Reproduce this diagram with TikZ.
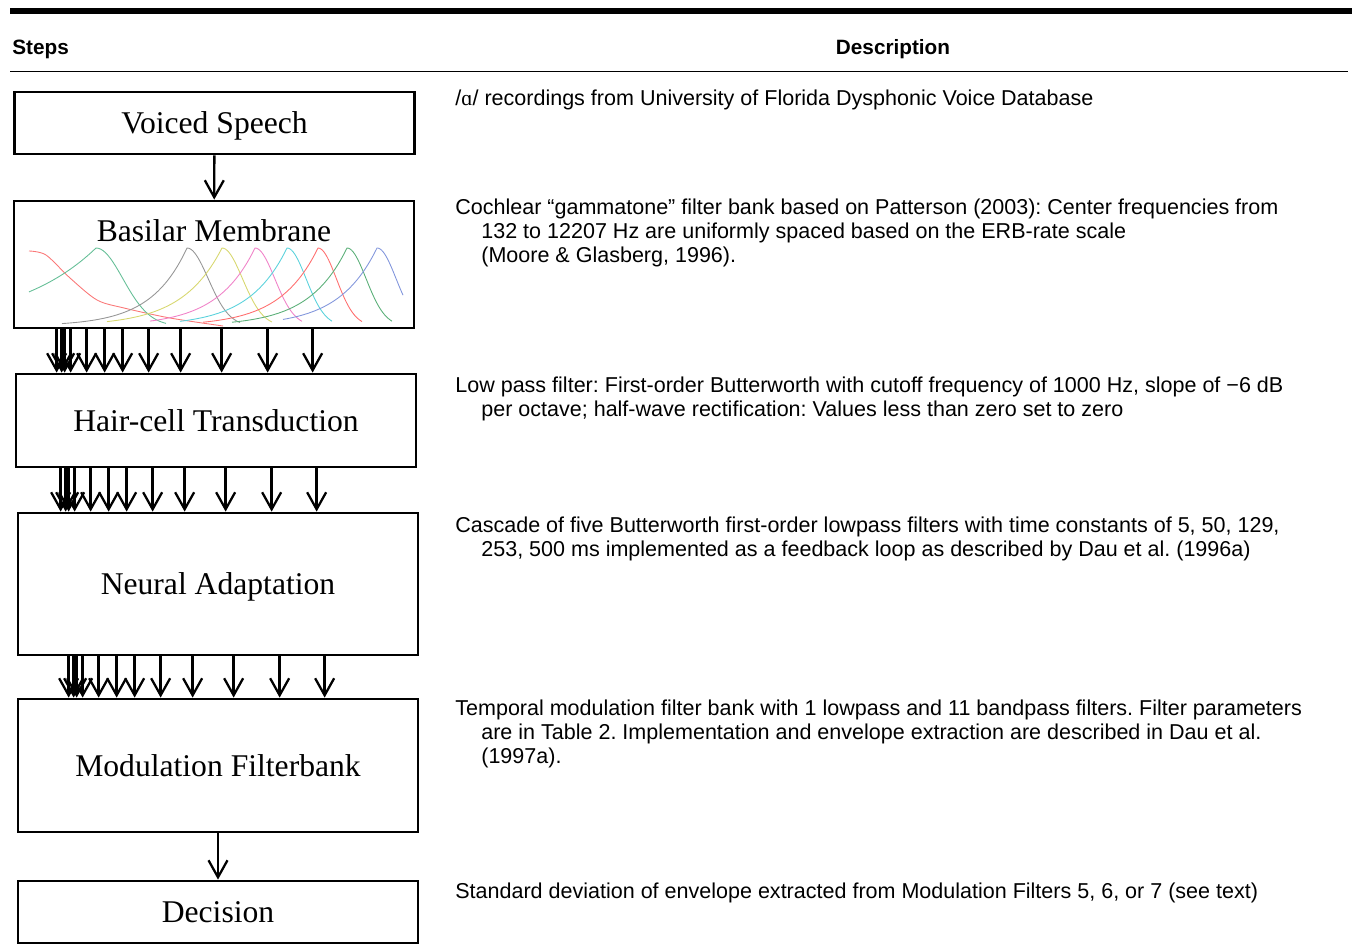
\documentclass[tikz,border=0pt]{standalone}
\usepackage{fontspec}
\setmainfont{Liberation Serif}
\setsansfont{Liberation Sans}
\usetikzlibrary{arrows.meta,calc}
\frenchspacing

\definecolor{bmred}{RGB}{250,120,120}
\definecolor{bmgreen}{RGB}{100,190,150}
\definecolor{bmgray}{RGB}{150,150,150}
\definecolor{bmyellow}{RGB}{215,215,110}
\definecolor{bmpink}{RGB}{240,130,200}
\definecolor{bmcyan}{RGB}{90,210,220}
\definecolor{bmredb}{RGB}{255,110,110}
\definecolor{bmgreenb}{RGB}{90,175,120}
\definecolor{bmblue}{RGB}{130,150,220}

\tikzset{
  stepbox/.style={draw=black,line width=1.6pt,minimum width=8cm,text depth=0pt,
    font=\rmfamily\fontsize{18}{22}\selectfont},
  steptext/.style={font=\rmfamily\fontsize{18}{22}\selectfont,text depth=0pt},
  header/.style={font=\sffamily\bfseries\fontsize{11.8}{14}\selectfont,inner sep=0pt},
  desc/.style={anchor=base west,align=left,inner sep=0pt,
    font=\sffamily\fontsize{12.25}{13.66}\selectfont},
  fanarrow/.style={-{Straight Barb[length=0.34cm,width=0.38cm]},line width=1.3pt},
  bmcurve/.style={line width=0.5pt},
}

\begin{document}
\begin{tikzpicture}[x=0.02cm,y=-0.02cm]
\useasboundingbox (0,0) rectangle (1356,949);
% table rules and headings
\fill (10,8) rectangle (1352,14);
\draw[line width=1.1pt] (10,71.5) -- (1348,71.5);
\node[header,anchor=base west] (steps) at (12,55) {Steps};
\node[header,anchor=base] (description) at (893,55) {Description};

% steps
\node[stepbox,minimum height=1.24cm] (voiced) at (214.5,123) {Voiced Speech};
\node[stepbox,minimum height=2.54cm] (basilar) at (214,264.5) {};
\node[steptext] (basilarlabel) at (214,231) {Basilar Membrane};
\node[stepbox,minimum height=1.86cm] (haircell) at (216,420.5) {Hair-cell Transduction};
\node[stepbox,minimum height=2.84cm] (neural) at (218,584) {Neural Adaptation};
\node[stepbox,minimum height=2.66cm] (modfilt) at (218,765.5) {Modulation Filterbank};
\node[stepbox,minimum height=1.24cm] (decision) at (218,912) {Decision};

% gammatone responses
\begin{scope}
\clip (basilar.south west) rectangle (basilar.north east);
\draw[bmcurve,bmred] plot[smooth] coordinates {(29,251) (46,255) (70,278) (97,300) (124,308) (170,318) (223,326)};
\foreach \p/\k/\s/\a/\b/\c in {96/81/38/29/166/bmgreen, 187/36/30/62/240/bmgray,
    222/40/29/107/272/bmyellow, 255/38/28/150/302/bmpink, 287/38/27/180/332/bmcyan,
    318/38/26/203/362/bmredb, 347/38/27/232/392/bmgreenb, 377/38/27/283/403/bmblue}
  \draw[bmcurve,\c] plot[domain=\a:\p,samples=40] (\x,{326-78*exp((\x-\p)/\k)})
    -- plot[domain=\p:\b,samples=30] (\x,{326-78*exp(-((\x-\p)/\s)^2)});
\end{scope}

% connectors
\draw[fanarrow] (voiced) -- (basilar);
\draw[fanarrow] (modfilt) -- (decision);
\foreach \up/\down/\sh in {basilar/haircell/0, haircell/neural/2, neural/modfilt/8}
  \foreach \dx in {44,49,52,58,74,92,110,136,168,209,255,300} {
    \coordinate (from) at ($(\up.south west)+(\dx+\sh,0)$);
    \draw[fanarrow] (from) -- (from |- \down.north);
  }

% descriptions (base = last line)
\node[desc] (voiceddesc) at (455,105.5) {/{\rmfamily ɑ}/ recordings from University of Florida Dysphonic Voice Database};
\node[desc] (basilardesc) at (455,262.5) {Cochlear “gammatone” filter bank based on Patterson (2003): Center frequencies from\\
  \hspace*{0.52cm}132 to 12207 Hz are uniformly spaced based on the ERB-rate scale\\
  \hspace*{0.52cm}(Moore \& Glasberg, 1996).};
\node[desc] (hairdesc) at (455,416.5) {Low pass filter: First-order Butterworth with cutoff frequency of 1000 Hz, slope of −6 dB\\
  \hspace*{0.52cm}per octave; half-wave rectification: Values less than zero set to zero};
\node[desc] (neuraldesc) at (455,556.5) {Cascade of five Butterworth first-order lowpass filters with time constants of 5, 50, 129,\\
  \hspace*{0.52cm}253, 500 ms implemented as a feedback loop as described by Dau et al. (1996a)};
\node[desc] (modfiltdesc) at (455,763.5) {Temporal modulation filter bank with 1 lowpass and 11 bandpass filters. Filter parameters\\
  \hspace*{0.52cm}are in Table 2. Implementation and envelope extraction are described in Dau et al.\\
  \hspace*{0.52cm}(1997a).};
\node[desc] (decisiondesc) at (455,898.5) {Standard deviation of envelope extracted from Modulation Filters 5, 6, or 7 (see text)};
\end{tikzpicture}
\end{document}
